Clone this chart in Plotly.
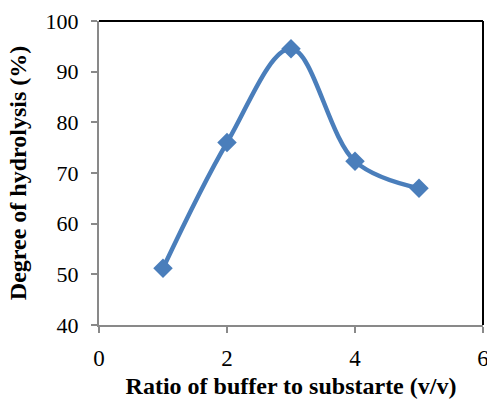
import plotly.graph_objects as go

ratio = [1, 2, 3, 4, 5]
hydrolysis = [51.2, 76.0, 94.5, 72.3, 67.0]
x_ticks = [0, 2, 4, 6]
y_ticks = [40, 50, 60, 70, 80, 90, 100]

blue = "#4a7ebb"
font_fam = "Liberation Serif"

fig = go.Figure()
fig.add_trace(go.Scatter(
    x=ratio, y=hydrolysis, mode="lines+markers",
    line=dict(color=blue, width=4.5, shape="spline", smoothing=1.0),
    marker=dict(symbol="diamond", size=15, color=blue),
    showlegend=False,
))

fig.update_layout(
    width=487, height=399,
    margin=dict(l=99, r=4, t=21, b=74, autoexpand=False),
    plot_bgcolor="white", paper_bgcolor="white",
    font=dict(family=font_fam, size=22, color="black"),
    xaxis=dict(
        range=[0, 6], tickvals=x_ticks, automargin=False,
        showgrid=False, zeroline=False, showline=True, linecolor="#898989", linewidth=2,
        ticks="outside", ticklen=6, tickwidth=1.5, tickcolor="#898989",
        ticklabeloverflow="allow", ticklabelstandoff=5,
        tickfont=dict(family=font_fam, size=23, color="black"),
        title=dict(text="<b>Ratio of buffer to substarte (v/v)</b>",
                   font=dict(family=font_fam, size=24, color="black"), standoff=12),
    ),
    yaxis=dict(
        range=[40, 100], tickvals=y_ticks, automargin=False,
        showgrid=False, zeroline=False, showline=True, linecolor="#898989", linewidth=2,
        ticks="outside", ticklen=6, tickwidth=1.5, tickcolor="#898989",
        ticklabelstandoff=8,
        tickfont=dict(family=font_fam, size=22, color="black"),
        title=dict(text="<b>Degree of hydrolysis (%)</b>",
                   font=dict(family=font_fam, size=24, color="black"), standoff=12),
    ),
)

# top and right frame lines (black)
fig.add_shape(type="line", xref="paper", yref="paper", x0=0, x1=1, y0=1, y1=1,
              line=dict(color="black", width=2))
fig.add_shape(type="line", xref="paper", yref="paper", x0=1, x1=1, y0=0, y1=1,
              line=dict(color="black", width=2))

fig.write_html("out.html")
